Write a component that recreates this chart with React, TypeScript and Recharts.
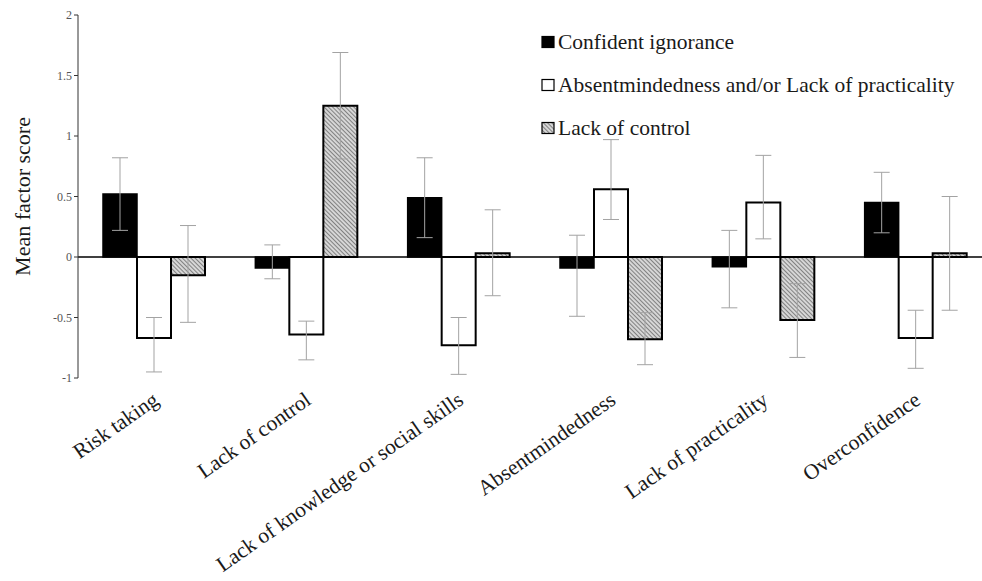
import React from "react";
import {
  Bar,
  BarChart,
  ErrorBar,
  ReferenceLine,
  XAxis,
  YAxis,
} from "recharts";

const categories = [
  "Risk taking",
  "Lack of control",
  "Lack of knowledge or social skills",
  "Absentmindedness",
  "Lack of practicality",
  "Overconfidence",
];

const seriesNames = [
  "Confident ignorance",
  "Absentmindedness and/or Lack of practicality",
  "Lack of control",
];

// mean factor scores
const confidentIgnorance = [0.52, -0.09, 0.49, -0.09, -0.08, 0.45];
const absentmindedness = [-0.67, -0.64, -0.73, 0.56, 0.45, -0.67];
const lackOfControl = [-0.15, 1.25, 0.03, -0.68, -0.52, 0.03];

// error bar ends: [low, high]
const ciRange = [[0.22, 0.82], [-0.18, 0.1], [0.16, 0.82], [-0.49, 0.18], [-0.42, 0.22], [0.2, 0.7]];
const amRange = [[-0.95, -0.5], [-0.85, -0.53], [-0.97, -0.5], [0.31, 0.97], [0.15, 0.84], [-0.92, -0.44]];
const lcRange = [[-0.54, 0.26], [0.81, 1.69], [-0.32, 0.39], [-0.89, -0.46], [-0.83, -0.22], [-0.44, 0.5]];

const yTicks = [-1, -0.5, 0, 0.5, 1, 1.5, 2];

const FONT = "'Liberation Serif', 'Times New Roman', serif";

const toErr = (v: number, r: number[]) => [+(v - r[0]).toFixed(3), +(r[1] - v).toFixed(3)];

const data = categories.map((name, i) => ({
  name,
  ci: confidentIgnorance[i],
  am: absentmindedness[i],
  lc: lackOfControl[i],
  ciErr: toErr(confidentIgnorance[i], ciRange[i]),
  amErr: toErr(absentmindedness[i], amRange[i]),
  lcErr: toErr(lackOfControl[i], lcRange[i]),
}));

function CategoryTick(props: any) {
  const { x, y, payload } = props;
  const tx = x + 6;
  const ty = y + 25;
  return (
    <text
      x={tx}
      y={ty}
      transform={`rotate(-35, ${tx}, ${ty})`}
      textAnchor="end"
      fontSize={21.5}
      fontFamily={FONT}
      fill="#1a1a1a"
    >
      {payload.value}
    </text>
  );
}

const swatches = [
  { fill: "#000" },
  { fill: "#fff" },
  { fill: "url(#lcHatch)" },
];

function LegendBox() {
  return (
    <div style={{ position: "absolute", left: 540, top: 30, fontFamily: FONT, fontSize: 21.5, color: "#1a1a1a" }}>
      {seriesNames.map((n, i) => (
        <div key={n} style={{ height: 43, display: "flex", alignItems: "flex-start" }}>
          <svg width={16} height={24} style={{ marginRight: 2 }}>
            <rect x={2} y={6.5} width={12} height={11} fill={swatches[i].fill} stroke="#000" strokeWidth={1.2} />
          </svg>
          <span style={{ lineHeight: "24px" }}>{n}</span>
        </div>
      ))}
    </div>
  );
}

export default function App() {
  return (
    <div style={{ position: "absolute", left: 0, top: 0, width: 982, height: 581, background: "#fff", overflow: "hidden" }}>
      <BarChart
        width={982}
        height={581}
        data={data}
        margin={{ top: 15, right: 0, bottom: 0, left: 0 }}
        barGap={0}
        barSize={34}
      >
        <defs>
          <pattern id="lcHatch" width="3" height="3" patternUnits="userSpaceOnUse" patternTransform="rotate(-45)">
            <rect width="3" height="3" fill="#d6d6d6" />
            <line x1="0" y1="0" x2="0" y2="3" stroke="#3a3a3a" strokeWidth="1.1" />
          </pattern>
        </defs>
        <XAxis
          dataKey="name"
          axisLine={false}
          tickLine={false}
          tickSize={0}
          tickMargin={0}
          height={203}
          interval={0}
          padding={{ left: 0, right: -10 }}
          tick={<CategoryTick />}
        />
        <YAxis
          width={78}
          domain={[-1, 2]}
          ticks={yTicks}
          tickSize={4}
          axisLine={{ stroke: "#333", strokeWidth: 1 }}
          tickLine={{ stroke: "#333" }}
          tick={{ fontSize: 12, fontFamily: FONT, fill: "#555" }}
          allowDataOverflow
          label={{
            value: "Mean factor score",
            angle: -90,
            position: "center",
            dx: -17,
            fontSize: 22,
            fontFamily: FONT,
            fill: "#1a1a1a",
          }}
        />
        <ReferenceLine y={0} stroke="#000" strokeWidth={1.5} />
        <Bar dataKey="ci" fill="#000" stroke="#000" strokeWidth={1.5} isAnimationActive={false}>
          <ErrorBar dataKey="ciErr" width={8} stroke="#a3a3a3" strokeWidth={1} />
        </Bar>
        <Bar dataKey="am" fill="#fff" stroke="#000" strokeWidth={2} isAnimationActive={false}>
          <ErrorBar dataKey="amErr" width={8} stroke="#a3a3a3" strokeWidth={1} />
        </Bar>
        <Bar dataKey="lc" fill="url(#lcHatch)" stroke="#000" strokeWidth={2} isAnimationActive={false}>
          <ErrorBar dataKey="lcErr" width={8} stroke="#a3a3a3" strokeWidth={1} />
        </Bar>
      </BarChart>
      <LegendBox />
    </div>
  );
}
